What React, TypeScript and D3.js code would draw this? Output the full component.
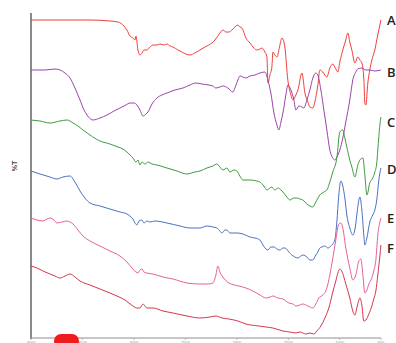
import { useEffect, useRef } from 'react';
import * as d3 from 'd3';

type Pt = [number, number];

// wavenumber (cm-1), offset %T
const spectrumA: Pt[] = [
  [4000, 318], [3718, 318], [3427, 318], [3233, 317], [3155, 316], [3097, 312], [3068, 308],
  [3039, 302], [3010, 300], [2990, 298], [2980, 302], [2961, 288], [2942, 283], [2922, 285],
  [2903, 288], [2874, 288], [2845, 291], [2815, 293], [2777, 293], [2747, 294], [2709, 293],
  [2679, 294], [2650, 292], [2621, 291], [2573, 288], [2534, 286], [2495, 284], [2456, 283],
  [2408, 285], [2359, 288], [2310, 291], [2272, 293], [2213, 298], [2165, 305], [2136, 308],
  [2107, 306], [2077, 306], [2048, 308], [2009, 312], [1990, 313], [1971, 311], [1951, 310],
  [1912, 300], [1873, 295], [1835, 290], [1806, 288], [1776, 289], [1757, 290], [1728, 286],
  [1708, 281], [1698, 255], [1679, 263], [1660, 271], [1650, 286], [1631, 283], [1611, 281],
  [1582, 293], [1563, 300], [1543, 296], [1534, 291], [1505, 258], [1475, 243], [1456, 238],
  [1427, 243], [1407, 248], [1368, 265], [1339, 245], [1310, 236], [1291, 231], [1262, 230],
  [1243, 236], [1213, 253], [1194, 268], [1165, 266], [1126, 261], [1097, 270], [1068, 274],
  [1049, 271], [1019, 266], [1000, 276], [971, 288], [942, 298], [922, 305], [903, 296],
  [883, 288], [854, 275], [825, 281], [805, 278], [786, 275], [766, 258], [757, 235],
  [747, 233], [728, 255], [709, 268], [689, 278], [660, 288], [641, 298], [621, 308], [601, 318],
];

const spectrumB: Pt[] = [
  [4000, 268], [3864, 268], [3767, 269], [3718, 268], [3670, 265], [3621, 260], [3573, 250],
  [3524, 238], [3485, 228], [3456, 223], [3398, 218], [3330, 220], [3262, 223], [3194, 227],
  [3136, 230], [3078, 233], [3039, 235], [3000, 235], [2971, 233], [2942, 228], [2912, 222],
  [2883, 224], [2864, 226], [2825, 234], [2777, 240], [2728, 243], [2679, 245], [2602, 248],
  [2524, 250], [2456, 253], [2398, 255], [2340, 254], [2272, 253], [2233, 252], [2204, 250],
  [2165, 251], [2136, 252], [2087, 250], [2039, 246], [2009, 253], [1990, 258], [1971, 262],
  [1941, 261], [1912, 260], [1873, 262], [1825, 263], [1776, 265], [1728, 266], [1699, 258],
  [1670, 245], [1640, 225], [1611, 213], [1592, 208], [1572, 216], [1553, 225], [1524, 243],
  [1505, 253], [1475, 248], [1446, 238], [1427, 228], [1398, 232], [1369, 231], [1349, 230],
  [1320, 238], [1291, 248], [1262, 260], [1233, 265], [1214, 263], [1184, 248], [1155, 228],
  [1126, 208], [1097, 188], [1068, 180], [1049, 178], [1019, 183], [1000, 188], [971, 200],
  [942, 216], [903, 238], [874, 258], [845, 266], [825, 269], [786, 270], [747, 268],
  [709, 268], [660, 267], [601, 268],
];

const spectrumC: Pt[] = [
  [4000, 218], [3913, 217], [3816, 215], [3718, 217], [3650, 218], [3592, 215], [3544, 212],
  [3495, 208], [3427, 203], [3330, 197], [3233, 194], [3155, 191], [3107, 189], [3068, 186],
  [3039, 183], [3010, 180], [2980, 176], [2961, 178], [2942, 173], [2922, 176], [2893, 174],
  [2864, 176], [2825, 174], [2777, 173], [2679, 170], [2582, 167], [2485, 164], [2408, 166],
  [2359, 167], [2291, 170], [2233, 172], [2194, 174], [2165, 171], [2136, 168], [2097, 170],
  [2068, 166], [2029, 168], [2000, 167], [1971, 162], [1941, 158], [1873, 158], [1806, 157],
  [1776, 156], [1738, 152], [1708, 148], [1679, 150], [1660, 151], [1631, 148], [1602, 150],
  [1572, 148], [1553, 146], [1514, 141], [1485, 138], [1446, 140], [1417, 140], [1388, 139],
  [1359, 138], [1320, 134], [1291, 132], [1262, 131], [1233, 136], [1194, 143], [1155, 146],
  [1126, 148], [1097, 156], [1068, 166], [1029, 180], [1000, 206], [971, 208], [951, 200],
  [932, 191], [903, 178], [883, 171], [854, 161], [825, 173], [805, 178], [776, 180],
  [757, 163], [737, 143], [709, 155], [680, 160], [660, 166], [641, 175], [631, 188],
  [611, 213], [601, 221],
];

const spectrumD: Pt[] = [
  [4000, 167], [3913, 164], [3816, 161], [3748, 159], [3689, 161], [3621, 162], [3573, 156],
  [3524, 147], [3476, 140], [3427, 135], [3330, 132], [3233, 129], [3136, 126], [3068, 124],
  [3029, 121], [3010, 119], [2990, 115], [2971, 113], [2951, 117], [2922, 118], [2903, 115],
  [2874, 117], [2845, 116], [2796, 117], [2679, 115], [2553, 112], [2456, 110], [2359, 110],
  [2291, 112], [2233, 111], [2194, 110], [2165, 107], [2145, 105], [2116, 108], [2097, 108],
  [2068, 105], [2039, 105], [2000, 105], [1941, 104], [1873, 101], [1825, 100], [1776, 98],
  [1747, 93], [1718, 89], [1699, 88], [1670, 91], [1640, 91], [1611, 89], [1582, 88],
  [1553, 90], [1534, 90], [1495, 86], [1466, 83], [1437, 81], [1407, 80], [1378, 82],
  [1359, 83], [1320, 81], [1291, 78], [1262, 78], [1233, 83], [1214, 86], [1194, 90],
  [1175, 91], [1145, 92], [1116, 90], [1087, 92], [1049, 98], [1029, 116], [1010, 143],
  [990, 157], [971, 152], [951, 140], [932, 123], [903, 110], [874, 103], [854, 108],
  [835, 123], [815, 138], [805, 141], [786, 128], [767, 103], [757, 93], [737, 100],
  [709, 116], [680, 123], [660, 128], [641, 138], [621, 158], [601, 170],
];

const spectrumE: Pt[] = [
  [4000, 120], [3942, 118], [3883, 117], [3845, 119], [3816, 120], [3777, 118], [3748, 115],
  [3699, 116], [3650, 117], [3621, 116], [3592, 114], [3544, 108], [3495, 102], [3427, 97],
  [3330, 92], [3233, 87], [3136, 82], [3068, 76], [3010, 69], [2980, 66], [2961, 65],
  [2942, 68], [2922, 69], [2903, 66], [2874, 65], [2815, 64], [2718, 61], [2621, 59],
  [2485, 55], [2359, 54], [2281, 54], [2233, 55], [2204, 63], [2184, 72], [2165, 66],
  [2136, 61], [2077, 55], [1980, 52], [1912, 50], [1844, 47], [1776, 43], [1718, 40],
  [1679, 41], [1650, 42], [1602, 40], [1553, 39], [1495, 35], [1456, 34], [1427, 32],
  [1388, 33], [1359, 34], [1310, 32], [1262, 30], [1233, 34], [1204, 40], [1165, 43],
  [1136, 47], [1097, 63], [1068, 80], [1039, 98], [1010, 114], [990, 115], [971, 110],
  [942, 90], [903, 70], [874, 58], [845, 63], [815, 77], [796, 79], [776, 63], [757, 45],
  [737, 48], [718, 54], [689, 60], [670, 67], [650, 78], [631, 103], [611, 116], [601, 120],
];

const spectrumF: Pt[] = [
  [4000, 72], [3942, 70], [3883, 67], [3816, 64], [3767, 62], [3718, 60], [3670, 62],
  [3621, 64], [3573, 61], [3524, 57], [3427, 53], [3330, 49], [3233, 45], [3165, 42],
  [3087, 38], [3010, 32], [2971, 30], [2942, 30], [2922, 33], [2912, 34], [2893, 32],
  [2874, 30], [2815, 30], [2718, 27], [2621, 25], [2485, 22], [2359, 20], [2262, 21],
  [2204, 22], [2145, 20], [2077, 19], [1990, 17], [1912, 14], [1786, 12], [1718, 11],
  [1650, 10], [1553, 7], [1485, 6], [1427, 5], [1388, 6], [1330, 4], [1291, 5], [1252, 4],
  [1223, 7], [1184, 12], [1145, 20], [1107, 30], [1068, 46], [1039, 57], [1019, 65],
  [1000, 69], [981, 67], [961, 61], [942, 54], [903, 40], [874, 27], [854, 23], [835, 30],
  [815, 38], [805, 40], [786, 33], [767, 17], [747, 18], [718, 24], [689, 32], [670, 39],
  [650, 47], [631, 63], [611, 82], [601, 93],
];

const seriesNames = ['A', 'B', 'C', 'D', 'E', 'F'];
const seriesColors = ['#f0403c', '#9a44aa', '#3f9a40', '#4a70c6', '#e5609a', '#d43650'];
const seriesData = [spectrumA, spectrumB, spectrumC, spectrumD, spectrumE, spectrumF];
const labelY = [25, 77, 127, 174, 223, 253];
const xTicks = [4000, 3500, 3000, 2500, 2000, 1500, 1000, 600];

export default function App() {
  const svgRef = useRef<SVGSVGElement>(null);
  const width = 396;
  const height = 343;

  useEffect(() => {
    if (!svgRef.current) return;
    const svg = d3.select(svgRef.current);
    svg.selectAll('*').remove();

    const x = d3.scaleLinear().domain([4000, 600]).range([31, 381]);
    const y = d3.scaleLinear().domain([0, 325]).range([338, 13]);

    // axes
    svg.append('line')
      .attr('x1', 31).attr('x2', 381)
      .attr('y1', y(0)).attr('y2', y(0))
      .attr('stroke', '#b4b4b4').attr('stroke-width', 1.5);
    svg.append('line')
      .attr('x1', 31).attr('x2', 31)
      .attr('y1', y(325)).attr('y2', y(0) + 1)
      .attr('stroke', '#8a8a8a').attr('stroke-width', 2);

    const ticks = svg.append('g');
    ticks.selectAll('line')
      .data(xTicks)
      .enter()
      .append('line')
      .attr('x1', (d) => x(d)).attr('x2', (d) => x(d))
      .attr('y1', y(0)).attr('y2', y(0) + 2)
      .attr('stroke', '#aaa').attr('stroke-width', 0.8);
    ticks.selectAll('text')
      .data(xTicks)
      .enter()
      .append('text')
      .attr('x', (d) => x(d))
      .attr('y', y(0) + 5.5)
      .attr('text-anchor', 'middle')
      .attr('font-family', 'Liberation Sans, sans-serif')
      .attr('font-size', 4)
      .attr('fill', '#8a8a8a')
      .text((d) => d);

    svg.append('text')
      .attr('transform', 'translate(17,166) rotate(-90)')
      .attr('text-anchor', 'middle')
      .attr('font-family', 'Liberation Sans, sans-serif')
      .attr('font-size', 7)
      .attr('font-weight', 'bold')
      .attr('fill', '#444')
      .text('%T');

    const line = d3
      .line<Pt>()
      .x((d) => x(d[0]))
      .y((d) => y(d[1]))
      .curve(d3.curveMonotoneX);

    seriesData.forEach((data, i) => {
      svg.append('path')
        .datum(data)
        .attr('fill', 'none')
        .attr('stroke', seriesColors[i])
        .attr('stroke-width', 1)
        .attr('stroke-linejoin', 'round')
        .attr('d', line);
    });

    svg.selectAll('text.lbl')
      .data(seriesNames)
      .enter()
      .append('text')
      .attr('class', 'lbl')
      .attr('x', 387)
      .attr('y', (_, i) => labelY[i])
      .attr('font-family', 'Open Sans, sans-serif')
      .attr('font-size', 13)
      .attr('font-weight', 600)
      .attr('fill', '#222')
      .text((d) => d);

    // red marker covering the second tick label
    svg.append('rect')
      .attr('x', 54).attr('y', 334)
      .attr('width', 25).attr('height', 14)
      .attr('rx', 7)
      .attr('fill', '#ee1c1c');
  }, []);

  return (
    <svg
      ref={svgRef}
      width={width}
      height={height}
      style={{ position: 'absolute', left: 0, top: 0, background: '#fff' }}
    />
  );
}
